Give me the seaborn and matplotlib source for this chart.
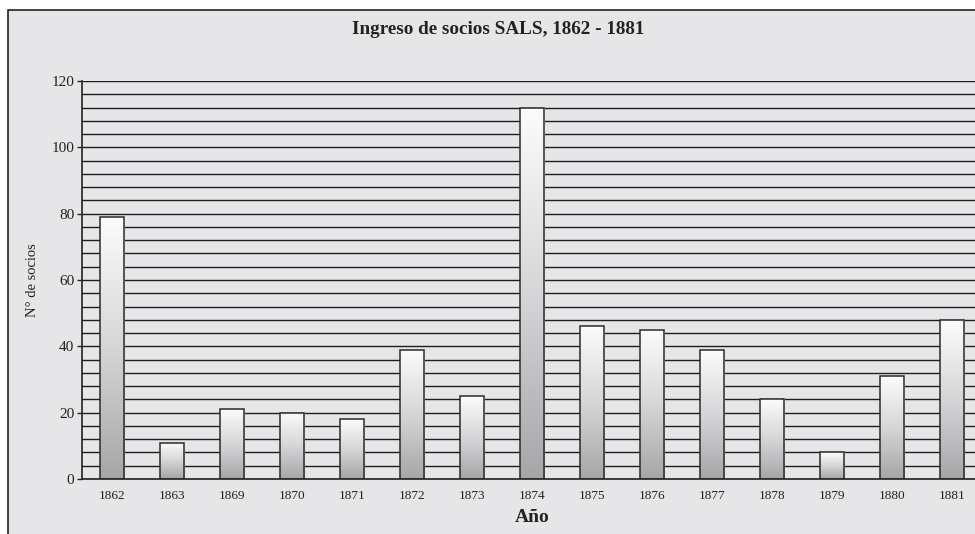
import numpy as np
import pandas as pd
import matplotlib
matplotlib.use('Agg')
import matplotlib.pyplot as plt
from matplotlib.colors import LinearSegmentedColormap
from matplotlib.patches import Rectangle
from matplotlib.ticker import MultipleLocator
import seaborn as sns

# -------- data --------
years = ['1862', '1863', '1869', '1870', '1871', '1872', '1873', '1874',
         '1875', '1876', '1877', '1878', '1879', '1880', '1881']
socios = [79, 11, 21, 20, 18, 39, 25, 112, 46, 45, 39, 24, 8, 31, 48]

df = pd.DataFrame({'Año': years, 'socios': socios})

sns.set_style('white')
plt.rcParams['font.family'] = ['Liberation Serif', 'DejaVu Serif']

bg = '#e6e6e8'
W, H = 975, 534
fig = plt.figure(figsize=(W / 100, H / 100), dpi=100, facecolor='white')

# grey panel with border (left/top visible)
fig.patches.append(Rectangle((8 / W, -0.1), 1.2, (H - 10) / H + 0.1,
                             transform=fig.transFigure, facecolor=bg,
                             edgecolor='#222222', lw=1.2, zorder=-5))

ax = fig.add_axes([82 / W, 55 / H, 900 / W, 398 / H])
ax.set_facecolor(bg)

sns.barplot(data=df, x='Año', y='socios', ax=ax, width=0.41,
            color='white', edgecolor='#2a2a2a', linewidth=1.1, zorder=3)

# vertical gradient inside each bar
cmap = LinearSegmentedColormap.from_list('bar', ['#a6a6a8', '#d6d6d8', '#fcfcfc'])
grad = np.linspace(0, 1, 256).reshape(-1, 1)
for p in ax.patches:
    x0, w, h = p.get_x(), p.get_width(), p.get_height()
    im = ax.imshow(grad, extent=[x0, x0 + w, 0, h], origin='lower',
                   aspect='auto', cmap=cmap, zorder=2.5)
    im.set_clip_path(p)
    p.set_facecolor('none')

ax.set_xlim(-0.5, len(years) - 0.5)
ax.set_ylim(0, 120)

# grid every 4, labels every 20
ax.yaxis.set_major_locator(MultipleLocator(20))
ax.yaxis.set_minor_locator(MultipleLocator(4))
ax.grid(axis='y', which='both', color='#1e1e1e', lw=1.0, zorder=1)
ax.set_axisbelow(True)

ax.set_xticks(range(len(years)))
ax.set_xticklabels(years)
ax.set_xticks(np.arange(0.5, len(years), 1), minor=True)
ax.tick_params(axis='x', which='major', length=0, pad=8, labelsize=9.5, colors='#222222')
ax.tick_params(axis='x', which='minor', length=3, width=1, direction='out', color='#222222')
ax.tick_params(axis='y', which='major', length=3.5, width=1, pad=2, labelsize=11,
               colors='#222222', left=True)
ax.tick_params(axis='y', which='minor', length=0)

for s in ['top', 'right']:
    ax.spines[s].set_visible(False)
for s in ['left', 'bottom']:
    ax.spines[s].set_color('#222222')
    ax.spines[s].set_linewidth(1.2)

ax.set_xlabel('Año', fontsize=14, fontweight='bold', color='#222222', labelpad=5)
ax.set_ylabel('N° de socios', fontsize=10.5, color='#222222', labelpad=9)

fig.text(498 / W, 1 - 30 / H, 'Ingreso de socios SALS, 1862 - 1881',
         ha='center', va='center', fontsize=13.8, fontweight='bold', color='#222222')

fig.savefig('out.png', dpi=100, facecolor=fig.get_facecolor())
